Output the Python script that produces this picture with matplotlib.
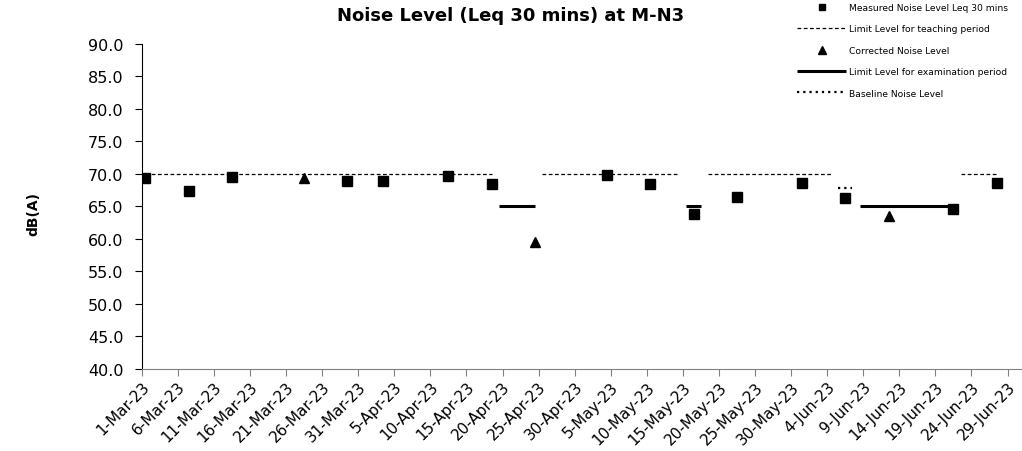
import numpy as np
import pandas as pd
import matplotlib
matplotlib.use("Agg")
import matplotlib.pyplot as plt
import matplotlib.dates as mdates
from matplotlib.ticker import FormatStrFormatter

plt.rcParams["font.family"] = ["DejaVu Sans"]

# measured noise level, Leq 30 min
measuredDates = ["2023-03-01", "2023-03-07", "2023-03-13", "2023-03-29", "2023-04-03",
                 "2023-04-12", "2023-04-18", "2023-05-04", "2023-05-10", "2023-05-16",
                 "2023-05-22", "2023-05-31", "2023-06-06", "2023-06-21", "2023-06-27"]
measuredLevels = [69.3, 67.3, 69.5, 68.9, 68.9, 69.6, 68.5, 69.8, 68.5, 63.9,
                  66.5, 68.6, 66.3, 64.6, 68.6]

# corrected noise level
correctedDates = ["2023-03-23", "2023-04-24", "2023-06-12"]
correctedLevels = [69.4, 59.5, 63.5]

# limit for teaching period (start, end)
teachingPeriods = [("2023-03-01", "2023-04-18"), ("2023-04-25", "2023-05-14"),
                   ("2023-05-18", "2023-06-04"), ("2023-06-22", "2023-06-27")]
teachingLimit = 70.0

# limit for examination period (start, end)
examPeriods = [("2023-04-19", "2023-04-24"), ("2023-05-15", "2023-05-17"),
               ("2023-06-08", "2023-06-21")]
examLimit = 65.0

# baseline noise level
baselinePeriod = ("2023-06-05", "2023-06-07")
baselineLevel = 67.8

yTicks = np.arange(40, 90.1, 5)
xTicks = pd.date_range("2023-03-01", "2023-06-29", freq="5D")

# excel puts date points in the middle of the day
halfDay = pd.Timedelta(hours=12)


def toDates(values):
    return pd.to_datetime(values) + halfDay


fig = plt.figure(figsize=(10.22, 4.52), dpi=100)
ax = fig.add_axes([0.1387, 0.1814, 0.8613, 0.7197])

for i, (start, end) in enumerate(teachingPeriods):
    ax.plot(toDates([start, end]), [teachingLimit] * 2, color="black", linestyle=(0, (3, 2)),
            linewidth=0.9, label="Limit Level for teaching period" if i == 0 else None, zorder=2)

for i, (start, end) in enumerate(examPeriods):
    ax.plot(toDates([start, end]), [examLimit] * 2, color="black", linewidth=2.2,
            solid_capstyle="butt", label="Limit Level for examination period" if i == 0 else None, zorder=2)

ax.plot(toDates(list(baselinePeriod)), [baselineLevel] * 2, color="black", linestyle=(0, (1, 1.8)),
        linewidth=1.6, label="Baseline Noise Level", zorder=2)

ax.plot(toDates(measuredDates), measuredLevels, linestyle="none", marker="s", markersize=6.5,
        color="black", label="Measured Noise Level Leq 30 mins", zorder=3)
ax.plot(toDates(correctedDates), correctedLevels, linestyle="none", marker="^", markersize=7.5,
        color="black", label="Corrected Noise Level", zorder=3)

ax.set_xlim(pd.Timestamp("2023-03-01"), pd.Timestamp("2023-07-01"))
ax.set_ylim(40, 90)
ax.set_yticks(yTicks)
ax.yaxis.set_major_formatter(FormatStrFormatter("%.1f"))
ax.set_xticks(xTicks)
ax.xaxis.set_major_formatter(mdates.DateFormatter("%-d-%b-%y"))

for side in ["top", "right"]:
    ax.spines[side].set_visible(False)
ax.spines["left"].set_color("black")
ax.spines["bottom"].set_color("#808080")
ax.tick_params(axis="y", labelsize=11.5, length=5, width=0.8, pad=8)
ax.tick_params(axis="x", labelsize=11, length=5, width=0.8, color="#808080", pad=2)
plt.setp(ax.get_xticklabels(), rotation=45, ha="right", rotation_mode="anchor")

ax.set_ylabel("dB(A)", fontsize=10, fontweight="bold")
ax.yaxis.set_label_coords(-0.115, 0.48)
fig.text(0.5, 0.965, "Noise Level (Leq 30 mins) at M-N3", ha="center", va="center",
         fontsize=13, fontweight="bold")

handles, labels = ax.get_legend_handles_labels()
order = ["Measured Noise Level Leq 30 mins", "Limit Level for teaching period",
         "Corrected Noise Level", "Limit Level for examination period", "Baseline Noise Level"]
handleMap = dict(zip(labels, handles))
fig.legend([handleMap[k] for k in order], order, loc="upper left", bbox_to_anchor=(0.778, 0.995),
           frameon=False, fontsize=6.6, handlelength=5.4, handletextpad=0.25, labelspacing=1.35,
           borderpad=0.2, borderaxespad=0, markerscale=0.75)

fig.savefig("out.png", dpi=100)
